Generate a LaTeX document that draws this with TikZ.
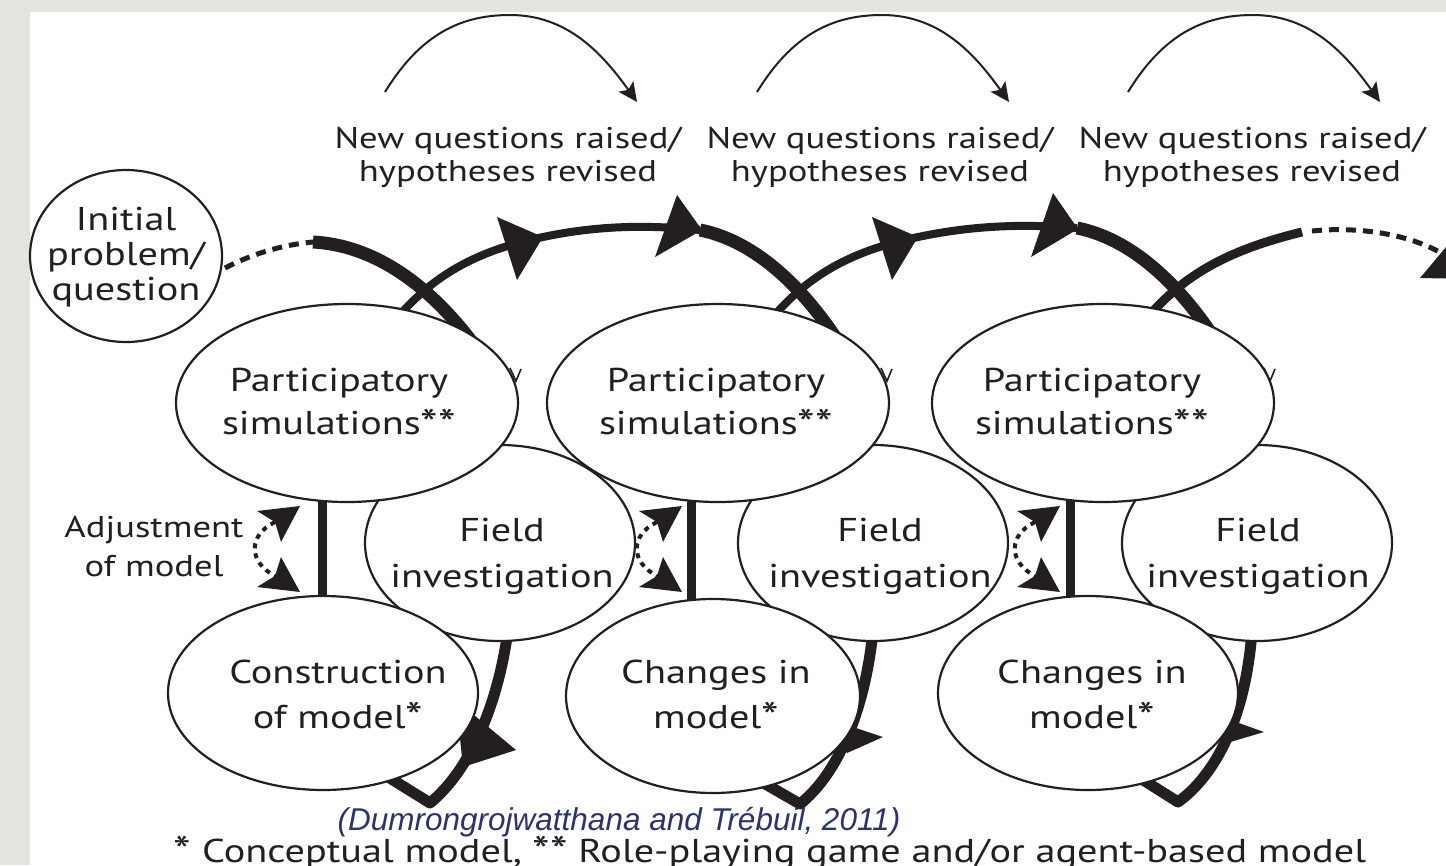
\documentclass[tikz,border=0pt]{standalone}
\usepackage{fontspec}
\setmainfont{PT Sans}[FakeStretch=1.22]
\newfontfamily\citefont{Liberation Sans}
\usetikzlibrary{arrows.meta,shapes.geometric}
\definecolor{ink}{HTML}{231F20}
\definecolor{band}{RGB}{229,229,224}
\definecolor{citec}{HTML}{2B3270}
\newcommand\bigast{\raisebox{-3.5pt}[0pt][0pt]{\fontsize{41}{41}\selectfont *}}
\tikzset{
  spiral/.style={draw=ink, line width=#1},
  headfill/.style={fill=ink},
  ell/.style={ellipse, draw=ink, fill=white, line width=2.2pt, inner sep=0pt},
  txt/.style={text=ink, align=center, inner sep=0pt},
  dots/.style={draw=ink, line width=4pt, dash pattern=on 5pt off 5pt},
  dashes/.style={draw=ink, line width=5pt, dash pattern=on 10pt off 7pt},
  toparc/.style={draw=ink, line width=2pt, -{Stealth[length=19pt,width=18pt,inset=4pt]}},
  tick/.style={draw=ink, line width=1.6pt},
}
\begin{document}
\begin{tikzpicture}[x=1pt,y=-1pt]
\useasboundingbox (0,0) rectangle (1446,865);
\fill[white] (0,0) rectangle (1446,865);
\fill[band] (0,0) rectangle (1446,12);
\fill[band] (0,0) rectangle (30,865);
\clip (0,0) rectangle (1446,865);

% ---------- spiral (behind the ellipses) ----------
\coordinate (s0) at (313,242);
\coordinate (t1) at (543,237);
\coordinate (t2) at (700,230);
\coordinate (t3) at (918,237);
\coordinate (t4) at (1077,228);
\coordinate (s9) at (1302,232);
\coordinate (e9) at (1441,253);
% top descending parts
\draw[spiral=13pt] (s0) .. controls (370,245) and (430,280) .. (485,360);
\draw[spiral=13pt] (t2) .. controls (750,240) and (800,280) .. (845,352);
\draw[spiral=13pt] (t4) .. controls (1127,238) and (1177,278) .. (1222,350);
% rising parts
\draw[spiral=8pt] (385,333) .. controls (425,280) and (470,252) .. (t1) .. controls (600,225) and (650,225) .. (t2);
\draw[spiral=8pt] (760,333) .. controls (800,280) and (845,252) .. (t3) .. controls (975,225) and (1025,224) .. (t4);
\draw[spiral=9pt] (1135,333) .. controls (1175,280) and (1220,252) .. (s9);
\draw[dashes] (1312,231) .. controls (1360,226) and (1410,235) .. (e9);
% top arrowheads
\fill[headfill] (497,217) -- (t1) -- (517,280) -- cycle;
\fill[headfill] (677,195) -- (702,230) -- (655,257) -- cycle;
\fill[headfill] (872,217) -- (t3) -- (892,280) -- cycle;
\fill[headfill] (1053,193) -- (1078,229) -- (1031,257) -- cycle;
\fill[headfill] (1420,278) -- (1462,228) -- (1472,279) -- cycle;
% verticals
\draw[spiral=9pt] (322,480) -- (322,620);
\draw[spiral=9pt] (691,480) -- (691,620);
\draw[spiral=9pt] (1070,480) -- (1070,620);
% bottom parts
\draw[spiral=11pt, line join=round] (508,630) .. controls (498,705) and (470,770) .. (430,803) -- (385,775);
\draw[spiral=11pt, line join=round] (873,630) .. controls (866,705) and (840,772) .. (800,804) -- (755,778);
\draw[spiral=11pt, line join=round] (1252,630) .. controls (1247,705) and (1222,770) .. (1178,802) -- (1140,778);
\fill[headfill] (456,700) -- (516,750) -- (463,767) -- cycle;
\fill[headfill] (823,717) -- (883,737) -- (847,753) -- cycle;
\fill[headfill] (1208,712) -- (1264,732) -- (1227,743) -- cycle;

% ---------- ellipses ----------
\node[ell, minimum width=270pt, minimum height=196pt] (f1) at (500,543) {};
\node[ell, minimum width=270pt, minimum height=196pt] (f2) at (873,543) {};
\node[ell, minimum width=270pt, minimum height=196pt] (f3) at (1257,543) {};
\node[ell, minimum width=310pt, minimum height=194pt] (c1) at (323,693) {};
\node[ell, minimum width=294pt, minimum height=194pt] (c2) at (713,696) {};
\node[ell, minimum width=300pt, minimum height=194pt] (c3) at (1088,693) {};
\node[ell, minimum width=342pt, minimum height=198pt] (p1) at (347,403) {};
\node[ell, minimum width=342pt, minimum height=198pt] (p2) at (718,403) {};
\node[ell, minimum width=342pt, minimum height=198pt] (p3) at (1103,403) {};
\node[ell, minimum width=192pt, minimum height=172pt] (init) at (126,256) {};
% small tips peeking out at the right of the participatory ellipses
\foreach \rx in {518, 889, 1272} {
  \draw[tick] (\rx-8,368) -- (\rx-2,381) -- (\rx+3,369);
}

\begin{scope}[font=\fontsize{33}{43}\selectfont]
\node[txt] (p1t) at (339,402) {Participatory\\simulations\bigast\bigast};
\node[txt] (p2t) at (716,402) {Participatory\\simulations\bigast\bigast};
\node[txt] (p3t) at (1092,402) {Participatory\\simulations\bigast\bigast};
\end{scope}
\begin{scope}[font=\fontsize{33}{46}\selectfont]
\node[txt] (f1t) at (502,556) {Field\\investigation};
\node[txt] (f2t) at (880,556) {Field\\investigation};
\node[txt] (f3t) at (1258,556) {Field\\investigation};
\end{scope}
\begin{scope}[font=\fontsize{33}{45}\selectfont]
\node[txt] (c1t) at (338,694) {Construction\\of model\bigast};
\node[txt] (c2t) at (716,694) {Changes in\\model\bigast};
\node[txt] (c3t) at (1092,694) {Changes in\\model\bigast};
\end{scope}
\node[txt, font=\fontsize{33}{35}\selectfont] (initt) at (126,257) {Initial\\problem/\\question};
\draw[dashes] (225,268) .. controls (250,255) and (280,245) .. (s0);

% ---------- adjustment arrows ----------
\foreach \tx/\nm in {300/a, 682/b, 1060/c} {
  \draw[dots] (\tx-25,522) .. controls (\tx-52,535) and (\tx-52,562) .. (\tx-25,576);
  \fill[headfill] (\tx,506) -- (\tx-43,511) -- (\tx-25,522) -- (\tx-19,542) -- cycle;
  \fill[headfill] (\tx,592) -- (\tx-43,587) -- (\tx-25,576) -- (\tx-19,557) -- cycle;
}
\node[txt, font=\fontsize{30}{39}\selectfont] (adj) at (154,547) {Adjustment\\of model};

% ---------- top arcs and labels ----------
\foreach \dx/\nm in {0/a, 372/b, 743/c} {
  \draw[toparc] (385+\dx,92) .. controls (420+\dx,35) and (460+\dx,15) .. (510+\dx,15) .. controls (565+\dx,15) and (600+\dx,50) .. (637+\dx,102);
}
\begin{scope}[font=\fontsize{30}{33}\selectfont]
\node[txt] (q1) at (508,157) {New questions raised/\\hypotheses revised};
\node[txt] (q2) at (880,157) {New questions raised/\\hypotheses revised};
\node[txt] (q3) at (1252,157) {New questions raised/\\hypotheses revised};
\end{scope}

% ---------- footnotes ----------
\node[txt, text=citec, font=\citefont\itshape\fontsize{31.5}{32}\selectfont] (cite) at (619,822) {(Dumrongrojwatthana and Trébuil, 2011)};
\node[txt, anchor=base, font=\fontsize{33}{36}\selectfont] (foot) at (770,862) {\bigast{} Conceptual model, \bigast\bigast{} Role-playing game and/or agent-based model};
\end{tikzpicture}
\end{document}
